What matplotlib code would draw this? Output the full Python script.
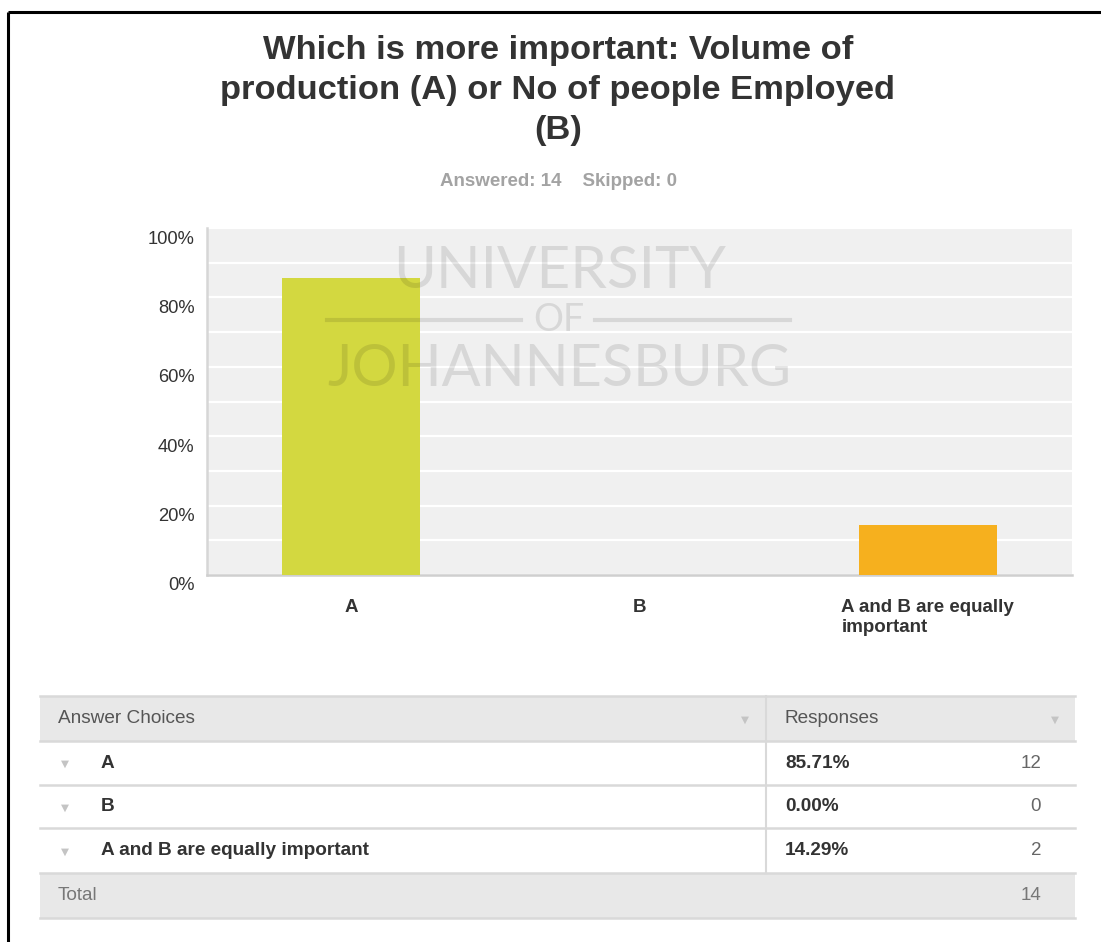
import textwrap
import numpy as np
import matplotlib
matplotlib.use("Agg")
import matplotlib.pyplot as plt
from matplotlib.transforms import ScaledTranslation
from matplotlib.patches import Rectangle

plt.rcParams['font.family'] = ['Liberation Sans', 'DejaVu Sans']

# survey data
choices = ["A", "B", "A and B are equally important"]
percents = [85.71, 0.00, 14.29]
counts = [12, 0, 2]
bar_colors = ["#d3d840", "#d3d840", "#f6b01e"]
answered = 14
skipped = 0
yticks = [0, 20, 40, 60, 80, 100]

W, H = 1101, 942
fig = plt.figure(figsize=(W / 100, H / 100), dpi=100)

# overlay axes in pixel coordinates (top-left origin) for title, table, border
ov = fig.add_axes([0, 0, 1, 1], zorder=0)
ov.set_xlim(0, W)
ov.set_ylim(H, 0)
ov.axis("off")

# black frame on top and left
ov.plot([8, W], [12, 12], color="black", lw=2.2, solid_capstyle="butt")
ov.plot([8, 8], [12, H], color="black", lw=2.2, solid_capstyle="butt")

# title
title_lines = ["Which is more important: Volume of",
               "production (A) or No of people Employed", "(B)"]
for i, line in enumerate(title_lines):
    ov.text(558, 50 + 40 * i, line, ha="center", va="center",
            fontsize=24.8, fontweight="bold", color="#333333")
ov.text(558, 182, "Answered: {}    Skipped: {}".format(answered, skipped),
        ha="center", va="center", fontsize=13.5, fontweight="bold", color="#a3a3a3")

# bar chart
ax = fig.add_axes([207 / W, 1 - 575 / H, 865 / W, 347 / H], zorder=1)
ax.set_facecolor("#f0f0f0")
x = np.arange(len(choices))
ax.bar(x, percents, width=0.48, color=bar_colors, zorder=3)
ax.set_xlim(-0.5, 2.5)
ax.set_ylim(0, 100)
ax.set_yticks(yticks)
ax.set_yticklabels(["{}%".format(t) for t in yticks])
ax.set_yticks(np.arange(10, 100, 10), minor=True)
ax.grid(True, which="both", axis="y", color="white", lw=1.6, zorder=1)
ax.set_xticks(x)
ax.set_xticklabels([textwrap.fill(c, 20) for c in choices])
for lbl in ax.get_xticklabels():
    lbl.set_multialignment("left")
    lbl.set_fontweight("bold")
    lbl.set_linespacing(1.25)
ax.tick_params(axis="x", length=0, pad=17, labelsize=13.5, labelcolor="#333333")
ax.tick_params(axis="y", which="both", length=0, pad=9, labelsize=13.2, labelcolor="#333333")
off = ScaledTranslation(0, -0.09, fig.dpi_scale_trans)
for lbl in ax.get_yticklabels():
    lbl.set_transform(lbl.get_transform() + off)
for s in ["top", "right"]:
    ax.spines[s].set_visible(False)
ax.spines["left"].set_color("#d6d6d6")
ax.spines["left"].set_linewidth(1.8)
ax.spines["bottom"].set_color("#cfcfcf")
ax.spines["bottom"].set_linewidth(1.8)

# faint university watermark drawn over the chart
wm = dict(ha="center", va="center", color="black", alpha=0.1,
          family=["Lato", "DejaVu Sans"], fontweight="normal",
          transform=ov.transData, zorder=5, clip_on=False)
ax.text(560, 272, "UNIVERSITY", fontsize=42, **wm)
ax.text(559, 369, "JOHANNESBURG", fontsize=41.5, **wm)
ax.text(559, 320, "OF", fontsize=27, **wm)
ax.plot([327, 521], [320, 320], color="black", alpha=0.1, lw=3,
        transform=ov.transData, zorder=5, clip_on=False)
ax.plot([595, 790], [320, 320], color="black", alpha=0.1, lw=3,
        transform=ov.transData, zorder=5, clip_on=False)

# response table
tl, tr, tdiv = 40, 1075, 766
rows_y = [696, 741, 785, 828, 873, 918]
line_c = "#d9d9d9"
ov.add_patch(Rectangle((tl, rows_y[0]), tr - tl, rows_y[1] - rows_y[0],
                       facecolor="#e8e8e8", edgecolor="none"))
ov.add_patch(Rectangle((tl, rows_y[4]), tr - tl, rows_y[5] - rows_y[4],
                       facecolor="#e8e8e8", edgecolor="none"))
for yy in rows_y:
    ov.plot([tl, tr], [yy, yy], color=line_c, lw=1.8)
ov.plot([tdiv, tdiv], [rows_y[0], rows_y[4]], color=line_c, lw=1.5)

tri = dict(ha="center", va="center", fontsize=7.5, color="#c4c4c4", family="DejaVu Sans")
hy = (rows_y[0] + rows_y[1]) / 2
ov.text(58, hy, "Answer Choices", ha="left", va="center", fontsize=13.7, color="#555555")
ov.text(745, hy + 1, "\u25bc", **tri)
ov.text(785, hy, "Responses", ha="left", va="center", fontsize=13.7, color="#555555")
ov.text(1055, hy + 1, "\u25bc", **tri)

for i, (c, p, n) in enumerate(zip(choices, percents, counts)):
    cy = (rows_y[i + 1] + rows_y[i + 2]) / 2
    ov.text(65, cy + 1, "\u25bc", **tri)
    ov.text(101, cy, c, ha="left", va="center", fontsize=13.7, fontweight="bold", color="#333333")
    ov.text(785, cy, "{:.2f}%".format(p), ha="left", va="center", fontsize=13.7,
            fontweight="bold", color="#333333")
    ov.text(1041, cy, str(n), ha="right", va="center", fontsize=13.5, color="#666666")

ty = (rows_y[4] + rows_y[5]) / 2
ov.text(58, ty, "Total", ha="left", va="center", fontsize=13.7, color="#777777")
ov.text(1041, ty, str(sum(counts)), ha="right", va="center", fontsize=13.5, color="#777777")

fig.savefig("out.png", dpi=100)
